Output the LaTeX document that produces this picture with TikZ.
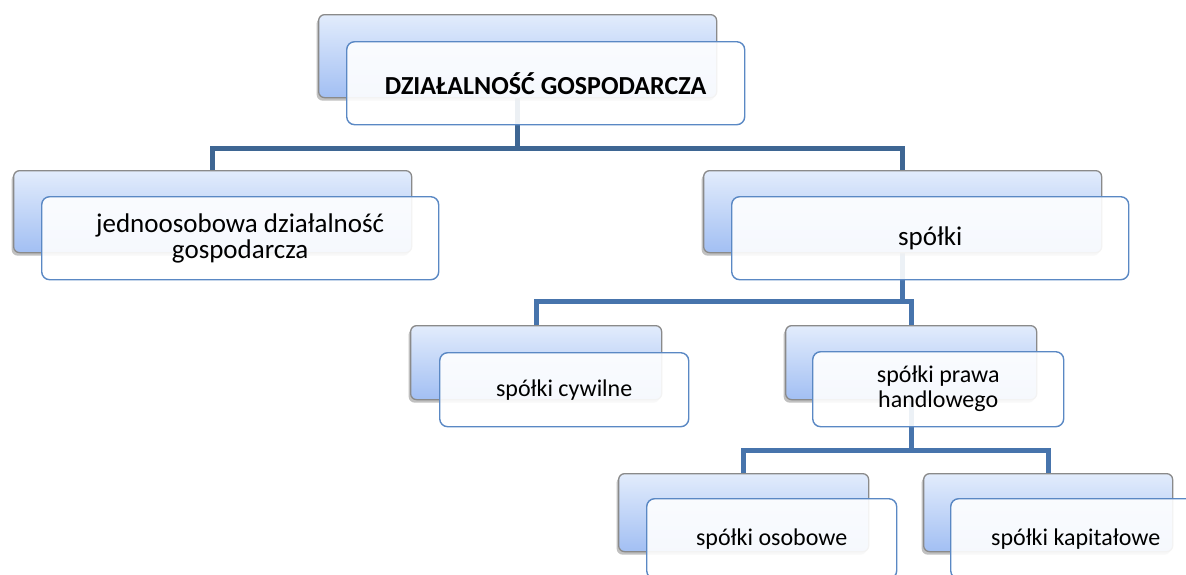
\documentclass[tikz,border=0pt]{standalone}
\usepackage{fontspec}
\setmainfont{Carlito}
\usetikzlibrary{shadows,backgrounds}
\definecolor{backtop}{HTML}{E2ECFC}
\definecolor{backbot}{HTML}{A2BFF3}
\definecolor{backline}{HTML}{8A8A8A}
\definecolor{frontline}{HTML}{5A88C4}
\definecolor{connA}{HTML}{3E6693}
\definecolor{connB}{HTML}{4774AC}
\tikzset{
  backbox/.style={draw=backline, line width=1.3pt, rounded corners=6pt,
    top color=backtop, bottom color=backbot,
    drop shadow={shadow xshift=-2pt, shadow yshift=-3pt, opacity=0.35, fill=black!70},
    inner sep=0pt, anchor=north west},
  frontbox/.style={draw=frontline, line width=1.4pt, rounded corners=8pt,
    fill=white, fill opacity=0.9, text opacity=1, inner sep=0pt,
    anchor=north west, align=center, text=black},
  busA/.style={draw=connA, line width=5pt},
  busB/.style={draw=connB, line width=5pt},
  fzero/.style={font=\fontsize{26}{28}\selectfont\bfseries},
  fone/.style={font=\fontsize{27}{26}\selectfont},
  ftwo/.style={font=\fontsize{24}{25}\selectfont},
}
\begin{document}
\begin{tikzpicture}[x=1pt,y=-1pt]
\clip (0,0) rectangle (1186,574);
\useasboundingbox (0,0) rectangle (1186,574);

% top
\node[backbox, minimum width=398pt, minimum height=83pt] (topB) at (318,14) {};
\node[frontbox, fzero, minimum width=398pt, minimum height=83pt] (topF) at (346,41) {DZIAŁALNOŚĆ GOSPODARCZA};

% level 1
\node[backbox, minimum width=398pt, minimum height=82pt] (jedB) at (13,170) {};
\node[frontbox, fone, minimum width=397pt, minimum height=83pt] (jedF) at (41,196) {jednoosobowa działalność\\gospodarcza};

\node[backbox, minimum width=398pt, minimum height=82pt] (spB) at (703,170) {};
\node[frontbox, fone, minimum width=397pt, minimum height=83pt] (spF) at (731,196) {spółki};

% level 2
\node[backbox, minimum width=251pt, minimum height=74pt] (cywB) at (410,325) {};
\node[frontbox, ftwo, minimum width=249pt, minimum height=74pt] (cywF) at (439,352) {spółki cywilne};

\node[backbox, minimum width=251pt, minimum height=74pt] (hanB) at (785,325) {};
\node[frontbox, ftwo, minimum width=251pt, minimum height=75pt] (hanF) at (812,351) {spółki prawa\\handlowego};

% level 3
\node[backbox, minimum width=250pt, minimum height=78pt] (osB) at (618,473) {};
\node[frontbox, ftwo, minimum width=250pt, minimum height=80pt] (osF) at (646,498) {spółki osobowe};

\node[backbox, minimum width=249pt, minimum height=78pt] (kapB) at (923,473) {};
\node[frontbox, ftwo, minimum width=250pt, minimum height=80pt] (kapF) at (950,498) {spółki kapitałowe};

\coordinate (busone) at (0,148);
\coordinate (bustwo) at (0,301);
\coordinate (busthree) at (0,450);

\begin{scope}[on background layer]
  \fill[white] (0,0) rectangle (1186,574);
  \draw[busA] (topB.south) -- (topB.south |- busone);
  \draw[busA] (jedB.north) -- (jedB.north |- busone) -- (spB.north |- busone) -- (spB.north);
  \draw[busB] (spB.south) -- (spB.south |- bustwo);
  \draw[busB] (cywB.north) -- (cywB.north |- bustwo) -- (hanB.north |- bustwo) -- (hanB.north);
  \draw[busB] (hanB.south) -- (hanB.south |- busthree);
  \draw[busB] (osB.north) -- (osB.north |- busthree) -- (kapB.north |- busthree) -- (kapB.north);
\end{scope}
\end{tikzpicture}
\end{document}
